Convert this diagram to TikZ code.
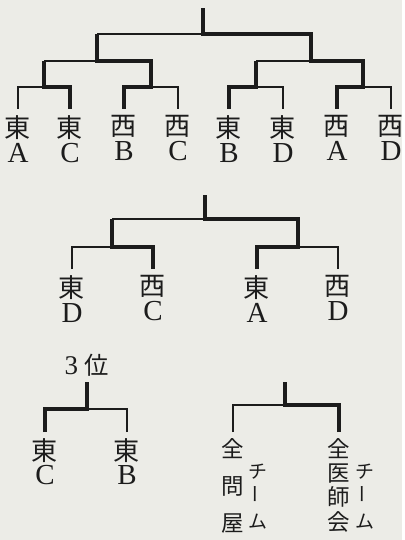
\documentclass[tikz,border=0pt]{standalone}
\usepackage{fontspec,graphicx}
\setmainfont{Liberation Serif}
\newfontfamily\jp[Scale=0.9]{Noto Sans CJK JP}
\usetikzlibrary{positioning}
\definecolor{PaperGray}{RGB}{236,236,231}
\definecolor{InkBlack}{RGB}{28,28,28}

\begin{document}
\begin{tikzpicture}[x=1pt, y=-1pt,
team/.style={align=center, anchor=north, inner sep=0pt, text=InkBlack,
font=\fontsize{29}{25}\selectfont},
tate/.style={align=center, anchor=north, inner sep=0pt, text=InkBlack,
font=\jp\fontsize{25}{37}\selectfont},
lose/.style={draw=InkBlack, line width=1.1pt, shorten <=6pt},
win/.style={draw=InkBlack, line width=3.6pt, line join=miter, shorten <=6pt},
link/.style={draw=InkBlack, line width=1.5pt}]
\fill[PaperGray] (0,0) rectangle (402,540);

% first bracket
\node[team] (a1) at (18,115) {{\jp 東}\\A};
\node[team] (a2) at (70,115) {{\jp 東}\\C};
\node[team] (a3) at (124,115) {{\jp 西}\\B};
\node[team] (a4) at (178,115) {{\jp 西}\\C};
\node[team] (a5) at (229,115) {{\jp 東}\\B};
\node[team] (a6) at (283,115) {{\jp 東}\\D};
\node[team] (a7) at (337,115) {{\jp 西}\\A};
\node[team] (a8) at (391,115) {{\jp 西}\\D};
\coordinate (m1) at (44,87);
\coordinate (m2) at (151,87);
\coordinate (m3) at (256,87);
\coordinate (m4) at (363,87);
\coordinate (s1) at (97,61);
\coordinate (s2) at (311,61);
\coordinate (f1) at (203,34);
\coordinate (t1) at (203,8);
\draw[lose] (a1.north) |- (m1);
\draw[win] (a2.north) |- (m1) -- (m1 |- s1);
\draw[link] (m1 |- s1) -- (s1);
\draw[lose] (a4.north) |- (m2);
\draw[win] (a3.north) |- (m2) |- (s1) -- (s1 |- f1);
\draw[link] (s1 |- f1) -- (f1);
\draw[lose] (a6.north) |- (m3);
\draw[win] (a5.north) |- (m3) -- (m3 |- s2);
\draw[link] (m3 |- s2) -- (s2);
\draw[lose] (a8.north) |- (m4);
\draw[win] (a7.north) |- (m4) |- (s2) |- (f1) -- (t1);

% second bracket
\node[team] (b1) at (72,275) {{\jp 東}\\D};
\node[team] (b2) at (153,275) {{\jp 西}\\C};
\node[team] (b3) at (257,275) {{\jp 東}\\A};
\node[team] (b4) at (338,275) {{\jp 西}\\D};
\coordinate (p1) at (112,247);
\coordinate (p2) at (298,247);
\coordinate (f2) at (205,219);
\coordinate (t2) at (205,195);
\draw[lose] (b1.north) |- (p1);
\draw[win] (b2.north) |- (p1) -- (p1 |- f2);
\draw[link] (p1 |- f2) -- (f2);
\draw[lose] (b4.north) |- (p2);
\draw[win] (b3.north) |- (p2) |- (f2) -- (t2);

% third place
\node[team, font=\fontsize{29}{24}\selectfont] (c1) at (45,438) {{\jp 東}\\C};
\node[team, font=\fontsize{29}{24}\selectfont] (c2) at (127,438) {{\jp 東}\\B};
\coordinate (q1) at (87,409);
\coordinate (t3) at (87,382);
\node[inner sep=0pt, text=InkBlack, font=\fontsize{27}{27}\selectfont,
above=5pt of t3] (rank) {3 {\jp 位}};
\draw[lose] (c2.north) |- (q1);
\draw[win] (c1.north) |- (q1) -- (t3);

% teams
\node[tate] (d1) at (233,438) {全\\問\\屋};
\node[tate, font=\jp\fontsize{25}{24.4}\selectfont] (d2) at (339,438) {全\\医\\師\\会};
\node[tate, font=\jp\fontsize{21}{25}\selectfont] (n1) at (258,464)
{チ\\\rotatebox{90}{ー}\\ム};
\node[tate, font=\jp\fontsize{21}{25}\selectfont] (n2) at (365,464)
{チ\\\rotatebox{90}{ー}\\ム};
\coordinate (r1) at (285,405);
\coordinate (t4) at (285,382);
\draw[lose] (d1.north) |- (r1);
\draw[win] (d2.north) |- (r1) -- (t4);
\end{tikzpicture}
\end{document}
